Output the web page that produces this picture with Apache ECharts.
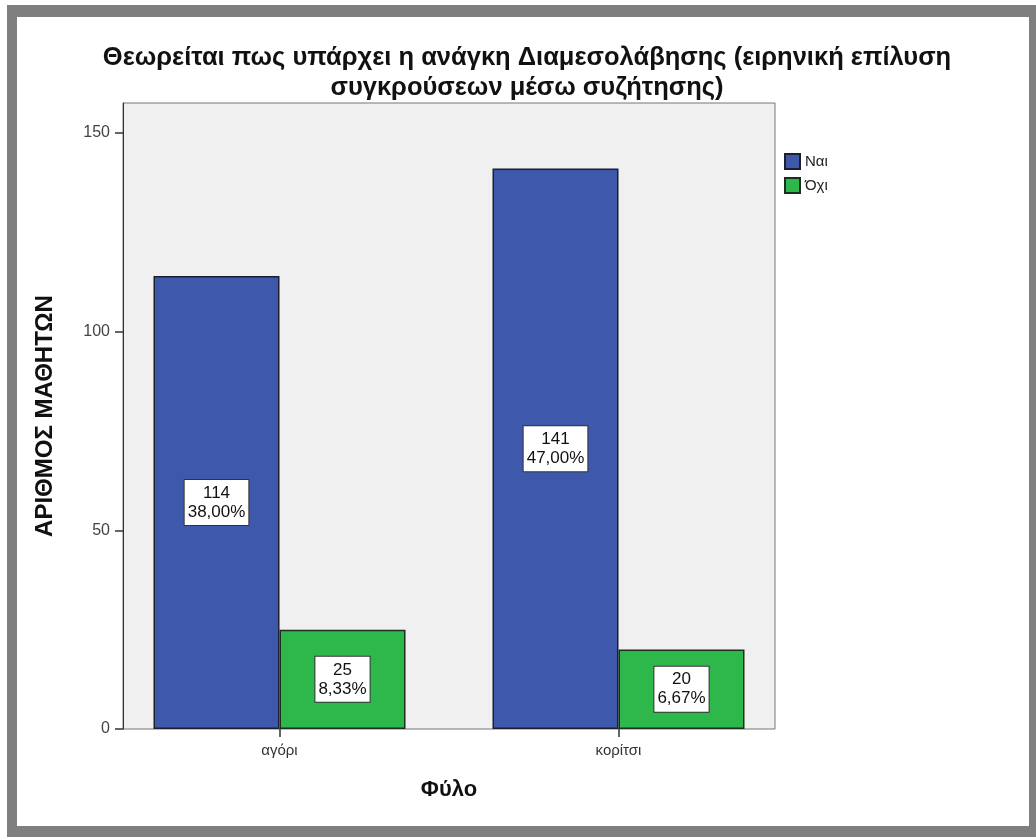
<!DOCTYPE html>
<html>
<head>
<meta charset="utf-8">
<script src="https://cdn.jsdelivr.net/npm/echarts@6/dist/echarts.min.js"></script>
<style>
html,body{margin:0;padding:0;background:#fff;}
#frame{position:absolute;left:0;top:0;width:1036px;height:837px;background:#fff;}
#b{position:absolute;left:7px;top:5px;width:1029px;height:832px;box-sizing:border-box;border-style:solid;border-color:#7f7f7f;border-width:12px 7px 11px 10px;}
#chart{position:absolute;left:0;top:0;width:1036px;height:837px;}
</style>
</head>
<body>
<div id="frame"><div id="b"></div><div id="chart"></div></div>
<script>
const categories = ['αγόρι', 'κορίτσι'];
const seriesNames = ['Ναι', 'Όχι'];
const yesValues = [114, 141];
const noValues = [25, 20];
const yesPct = ['38,00%', '47,00%'];
const noPct = ['8,33%', '6,67%'];
const yTicks = [0, 50, 100, 150];
const titleLines = ['Θεωρείται πως υπάρχει η ανάγκη Διαμεσολάβησης (ειρηνική επίλυση', 'συγκρούσεων μέσω συζήτησης)'];
const yName = 'ΑΡΙΘΜΟΣ ΜΑΘΗΤΩΝ';
const xName = 'Φύλο';

const FONT = 'Liberation Sans, Arial, sans-serif';
const chart = echarts.init(document.getElementById('chart'), null, {renderer: 'canvas'});

function labelFor(pcts) {
  return {
    show: true, position: 'inside',
    formatter: p => p.value + '\n' + pcts[p.dataIndex],
    backgroundColor: '#ffffff', borderColor: '#333', borderWidth: 1,
    padding: [4, 3, 3, 3], color: '#111', fontFamily: FONT, fontSize: 17, lineHeight: 19, align: 'center'
  };
}

chart.setOption({
  animation: false,
  title: {
    text: titleLines.join('\n'), left: 522, top: 38, textAlign: 'center',
    textStyle: {fontFamily: FONT, fontWeight: 'bold', fontSize: 25.5, lineHeight: 30, color: '#111'}
  },
  legend: {
    orient: 'vertical', left: 779, top: 148, itemWidth: 15, itemHeight: 15, itemGap: 7, icon: 'rect',
    textStyle: {fontFamily: FONT, fontSize: 15, color: '#222'},
    data: seriesNames
  },
  grid: [
    {left: 123, right: 261, top: 103, bottom: 108, show: true, backgroundColor: '#f0f0f0', borderColor: '#777', borderWidth: 1, containLabel: false},
    {left: 110, right: 248, top: 103, bottom: 108, show: false, containLabel: false}
  ],
  xAxis: [
    {gridIndex: 0, type: 'category', data: categories, show: false},
    {gridIndex: 1, type: 'category', data: categories,
     axisLine: {show: false},
     axisTick: {show: true, alignWithLabel: true, length: 8, lineStyle: {color: '#333', width: 1.5}},
     axisLabel: {fontFamily: FONT, fontSize: 15, color: '#333', margin: 14},
     name: xName, nameLocation: 'middle', nameGap: 50,
     nameTextStyle: {fontFamily: FONT, fontWeight: 'bold', fontSize: 22, color: '#111'}}
  ],
  yAxis: [
    {gridIndex: 0, type: 'value', min: 0, max: 157.5,
     axisLine: {show: true, lineStyle: {color: '#333', width: 1}},
     axisTick: {show: true, customValues: yTicks, length: 8, lineStyle: {color: '#333', width: 1.5}},
     axisLabel: {customValues: yTicks, fontFamily: FONT, fontSize: 16, color: '#444', margin: 13},
     splitLine: {show: false},
     name: yName, nameLocation: 'middle', nameGap: 66, nameRotate: 90,
     nameTextStyle: {fontFamily: FONT, fontWeight: 'bold', fontSize: 24, color: '#111'}},
    {gridIndex: 1, type: 'value', min: 0, max: 157.5, show: false, splitLine: {show: false}}
  ],
  series: [
    {name: seriesNames[0], type: 'bar', xAxisIndex: 1, yAxisIndex: 1, data: yesValues,
     barWidth: 126, barGap: '0%',
     itemStyle: {color: '#3e58ab', borderColor: '#1c1f2e', borderWidth: 1.5},
     label: labelFor(yesPct)},
    {name: seriesNames[1], type: 'bar', xAxisIndex: 1, yAxisIndex: 1, data: noValues,
     barWidth: 126, barGap: '0%',
     itemStyle: {color: '#2eb84b', borderColor: '#1c2e1f', borderWidth: 1.5},
     label: labelFor(noPct)}
  ]
});
</script>
</body>
</html>
